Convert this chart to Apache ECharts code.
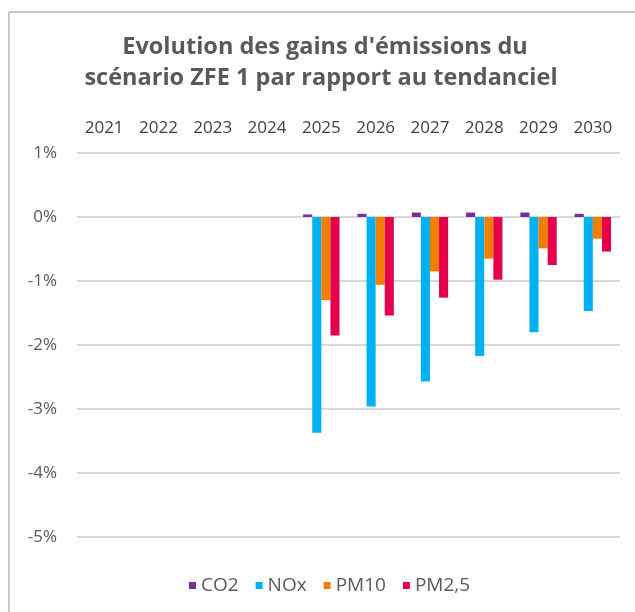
<!DOCTYPE html>
<html>
<head>
<meta charset="utf-8">
<script src="https://cdn.jsdelivr.net/npm/echarts@6/dist/echarts.min.js"></script>
<style>html,body{margin:0;padding:0;background:#fff;}#chart{width:635px;height:612px;}</style>
</head>
<body>
<div id="chart"></div>
<script>
const categories = ['2021','2022','2023','2024','2025','2026','2027','2028','2029','2030'];
const co2  = [null,null,null,null, 0.04, 0.05, 0.07, 0.07, 0.07, 0.05];
const nox  = [null,null,null,null,-3.37,-2.96,-2.57,-2.17,-1.80,-1.47];
const pm10 = [null,null,null,null,-1.30,-1.06,-0.85,-0.65,-0.49,-0.34];
const pm25 = [null,null,null,null,-1.85,-1.54,-1.26,-0.98,-0.75,-0.54];
const seriesNames = ['CO2','NOx','PM10','PM2,5'];
const colors = ['#7030A0','#00B0F0','#F07F00','#E6004C'];
const titleLines = ["Evolution des gains d'émissions du", "scénario ZFE 1 par rapport au tendanciel"];

const font = "'Open Sans', sans-serif";
const chart = echarts.init(document.getElementById('chart'), null, {renderer:'canvas'});
const dataSets = [co2, nox, pm10, pm25];
chart.setOption({
  animation: false,
  backgroundColor: '#fff',
  graphic: [
    {type:'line', shape:{x1:9,y1:12,x2:9,y2:612}, style:{stroke:'#c8c8c8', lineWidth:2}},
    {type:'line', shape:{x1:9,y1:12,x2:635,y2:12}, style:{stroke:'#c8c8c8', lineWidth:2}},
    {type:'text', x:325, y:47, style:{text:titleLines[0], fontFamily:font, fontSize:23.5, fontWeight:'bold', fill:'#595959', align:'center', verticalAlign:'middle'}},
    {type:'text', x:321, y:78, style:{text:titleLines[1], fontFamily:font, fontSize:23.5, fontWeight:'bold', fill:'#595959', align:'center', verticalAlign:'middle'}}
  ],
  legend: {
    top: 571,
    left: 184,
    icon: 'rect',
    itemWidth: 7,
    itemHeight: 7,
    itemGap: 17,
    textStyle: {fontFamily: font, fontSize: 19, color: '#595959'},
    data: seriesNames
  },
  grid: {left: 77, right: 15, top: 153, bottom: 75, containLabel: false},
  xAxis: {
    type: 'category',
    position: 'top',
    data: categories,
    axisLine: {show: false},
    axisTick: {show: false},
    axisLabel: {fontFamily: font, fontSize: 17, color: '#404040', margin: 16}
  },
  yAxis: {
    type: 'value',
    min: -5, max: 1, interval: 1,
    axisLine: {show: false},
    axisTick: {show: false},
    axisLabel: {formatter: '{value}%', fontFamily: font, fontSize: 17, color: '#595959', margin: 20},
    splitLine: {lineStyle: {color: '#d9d9d9', width: 2}}
  },
  series: seriesNames.map((n, i) => ({
    name: n,
    type: 'bar',
    data: dataSets[i],
    itemStyle: {color: colors[i]},
    barGap: '0%',
    barCategoryGap: '33%'
  }))
});
</script>
</body>
</html>
